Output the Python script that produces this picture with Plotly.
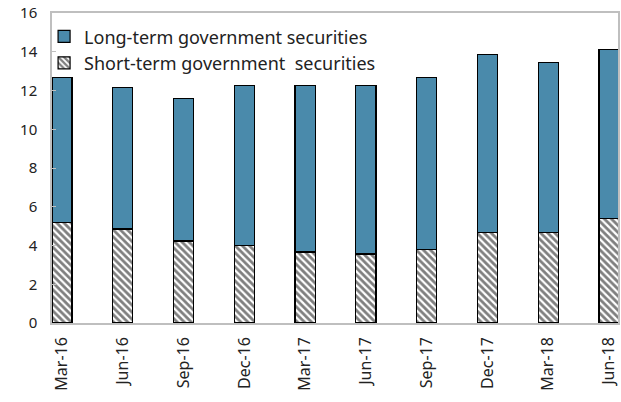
import plotly.graph_objects as go

categories = ["Mar-16", "Jun-16", "Sep-16", "Dec-16", "Mar-17", "Jun-17",
              "Sep-17", "Dec-17", "Mar-18", "Jun-18"]
short_term = [5.2, 4.85, 4.23, 4.02, 3.66, 3.56, 3.81, 4.69, 4.69, 5.41]
total = [12.68, 12.16, 11.6, 12.27, 12.27, 12.27, 12.68, 13.87, 13.45, 14.12]
long_term = [round(t - s, 2) for t, s in zip(total, short_term)]

x = list(range(len(categories)))
font = "Noto Sans, Open Sans, sans-serif"

fig = go.Figure()
fig.add_trace(go.Bar(
    x=x, y=short_term, name="Short-term government  securities",
    width=0.33, legendgroup="s",
    marker=dict(color="white", line=dict(color="black", width=1.2),
                pattern=dict(shape="\\", fgcolor="black", bgcolor="white",
                             size=5, solidity=0.55)),
))
fig.add_trace(go.Bar(
    x=x, y=long_term, name="Long-term government securities",
    width=0.33, legendgroup="l",
    marker=dict(color="#4a8aab", line=dict(color="black", width=1.2)),
))

fig.update_layout(
    width=621, height=402,
    margin=dict(l=52, r=1, t=13, b=79),
    barmode="stack",
    plot_bgcolor="white", paper_bgcolor="white",
    font=dict(family=font, size=15, color="#222"),
    legend=dict(x=-0.014, y=0.983, xanchor="left", yanchor="top",
                traceorder="reversed", font=dict(size=18),
                bgcolor="rgba(0,0,0,0)", tracegroupgap=7),
    xaxis=dict(tickmode="array", tickvals=x, ticktext=categories,
               range=[-0.164, 9.148], tickangle=-90,
               tickfont=dict(size=16), ticklabelstandoff=6,
               showline=True, linecolor="#bfbfbf", linewidth=1.5, mirror=True,
               ticks="", showgrid=False, zeroline=False),
    yaxis=dict(range=[0, 16], dtick=2, showgrid=False, zeroline=False,
               showline=True, linecolor="#bfbfbf", linewidth=1.5, mirror=True,
               ticks="inside", ticklen=4, tickcolor="#bfbfbf",
               ticklabelstandoff=10),
    showlegend=True,
)

fig.write_html("out.html")
